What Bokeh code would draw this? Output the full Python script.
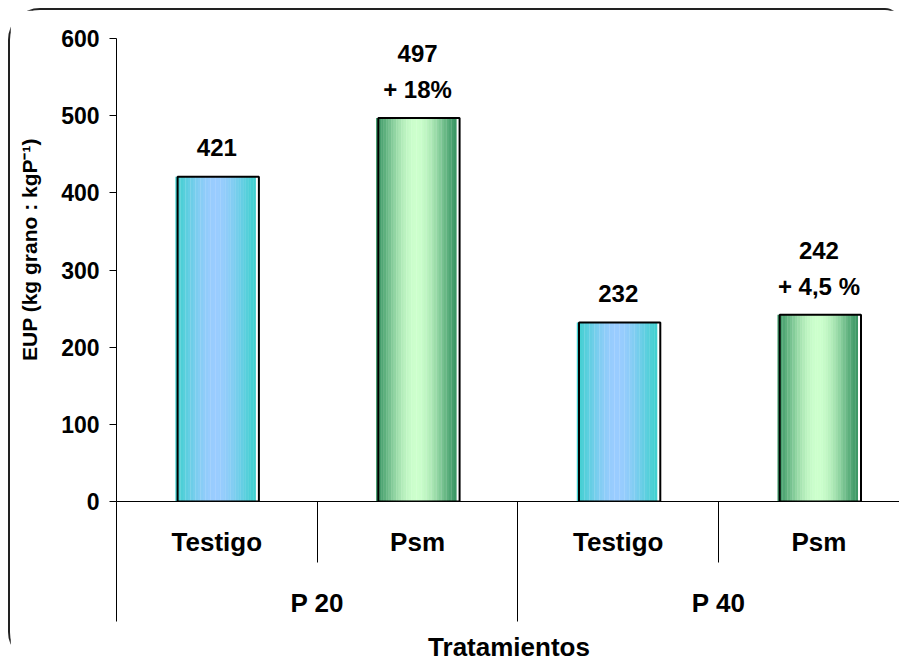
import numpy as np
from bokeh.plotting import figure
from bokeh.models import Range1d, LinearAxis, FixedTicker, ColumnDataSource
from bokeh.core.properties import value
from bokeh.embed import file_html
from bokeh.resources import INLINE

# ---------------- data ----------------
groups = ["P 20", "P 40"]
treatments = ["Testigo", "Psm", "Testigo", "Psm"]
eup = [421, 497, 232, 242]
value_labels = ["421", "497", "232", "242"]
pct_labels = ["", "+ 18%", "", "+ 4,5 %"]
y_ticks = [0, 100, 200, 300, 400, 500, 600]

# ---------------- style ----------------
FONT = "Liberation Sans"
edge_colors = {"Testigo": (64, 208, 208), "Psm": (58, 150, 100)}
center_colors = {"Testigo": (153, 204, 255), "Psm": (204, 255, 204)}

n = len(eup)
centers = np.arange(n) + 0.5
group_centers = np.arange(len(groups)) * 2 + 1.0
group_seps = np.arange(0, n + 1, 2).astype(float)
sub_seps = np.arange(0, n + 1).astype(float)

W, H = 891, 654
ML, MT = 106, 28
FRAME_H = 463
MB = H - MT - FRAME_H
x_end = (W - ML) / 200.7

p = figure(width=W, height=H, x_range=Range1d(0, x_end), y_range=Range1d(0, 600),
           output_backend="svg", toolbar_location=None, x_axis_location=None,
           min_border_left=ML, min_border_right=0, min_border_top=MT, min_border_bottom=MB)
p.outline_line_color = None
p.grid.visible = False
p.background_fill_color = "white"
p.border_fill_color = "white"
p.styles = {"margin-left": "8px", "margin-top": "8px",
            "border-top": "2px solid #222", "border-left": "2px solid #222",
            "border-top-left-radius": "32px", "border-bottom-left-radius": "30px",
            "border-top-right-radius": "14px"}

# gradient bars made of vertical strips
N = 32
bw = 0.40
xs, tops, cols = [], [], []
for i in range(n):
    e = np.array(edge_colors[treatments[i]], dtype=float)
    c = np.array(center_colors[treatments[i]], dtype=float)
    for k in range(N):
        t = (k + 0.5) / N
        w = np.sin(np.pi * t) ** 1.3
        col = e + (c - e) * w
        xs.append(centers[i] - 0.006 + (t - 0.5) * bw)
        tops.append(eup[i])
        cols.append("#%02x%02x%02x" % tuple(int(round(v)) for v in col))
p.vbar(x=xs, top=tops, bottom=0, width=bw / N * 1.1, fill_color=cols, line_color=None)

# outline (shadow-like black frame)
p.vbar(x=centers + 0.007, top=eup, bottom=0, width=0.405, fill_color=None,
       line_color="black", line_width=2)

# labels
lab = ColumnDataSource(dict(
    x=centers, y=eup, v=value_labels, pct=pct_labels,
    voff=[-29 if s == "" else -64 for s in pct_labels],
    poff=[-28] * n,
))
p.text(x="x", y="y", text="v", y_offset="voff", source=lab, text_align="center",
       text_baseline="middle", text_font=value(FONT), text_font_style="bold",
       text_font_size="24px", text_color="black")
p.text(x="x", y="y", text="pct", y_offset="poff", source=lab, text_align="center",
       text_baseline="middle", text_font=value(FONT), text_font_style="bold",
       text_font_size="24px", text_color="black")

# y axis
yax = p.yaxis[0]
yax.ticker = FixedTicker(ticks=y_ticks)
yax.major_tick_out = 7
yax.major_tick_in = 0
yax.minor_tick_out = 0
yax.minor_tick_in = 0
yax.axis_line_color = "black"
yax.major_tick_line_color = "black"
yax.major_label_text_font = FONT
yax.major_label_text_font_style = "bold"
yax.major_label_text_font_size = "23px"
yax.major_label_text_color = "black"
yax.major_label_standoff = 10
yax.axis_label = "\u00a0" * 7 + "EUP (kg grano : kgP⁻¹)"
yax.axis_label_text_font = FONT
yax.axis_label_text_font_style = "bold"
yax.axis_label_text_font_size = "21px"
yax.axis_label_text_color = "black"
yax.axis_label_standoff = 17

# x axis level 1 (treatments) with separators as minor ticks
xa1 = LinearAxis(ticker=FixedTicker(ticks=list(centers), minor_ticks=list(sub_seps)),
                 major_label_overrides={float(c): t for c, t in zip(centers, treatments)})
xa1.major_tick_out = 0
xa1.major_tick_in = 0
xa1.minor_tick_out = 61
xa1.minor_tick_in = 0
xa1.minor_tick_line_color = "black"
xa1.axis_line_color = "black"
xa1.major_label_standoff = -36
xa1.major_label_text_font = FONT
xa1.major_label_text_font_style = "bold"
xa1.major_label_text_font_size = "26px"
xa1.major_label_text_color = "black"
p.add_layout(xa1, "below")

# x axis level 2 (groups)
xa2 = LinearAxis(ticker=FixedTicker(ticks=list(group_centers), minor_ticks=list(group_seps)),
                 major_label_overrides={float(c): g for c, g in zip(group_centers, groups)})
xa2.major_tick_out = 0
xa2.major_tick_in = 0
xa2.minor_tick_out = 62
xa2.minor_tick_in = 57
xa2.minor_tick_line_color = "black"
xa2.axis_line_color = None
xa2.major_label_standoff = -34
xa2.major_label_text_font = FONT
xa2.major_label_text_font_style = "bold"
xa2.major_label_text_font_size = "26px"
xa2.major_label_text_color = "black"
xa2.axis_label = "Tratamientos"
xa2.axis_label_text_font = FONT
xa2.axis_label_text_font_style = "bold"
xa2.axis_label_text_font_size = "26px"
xa2.axis_label_text_color = "black"
xa2.axis_label_standoff = 11
p.add_layout(xa2, "below")

open("out.html", "w").write(file_html(p, INLINE))
